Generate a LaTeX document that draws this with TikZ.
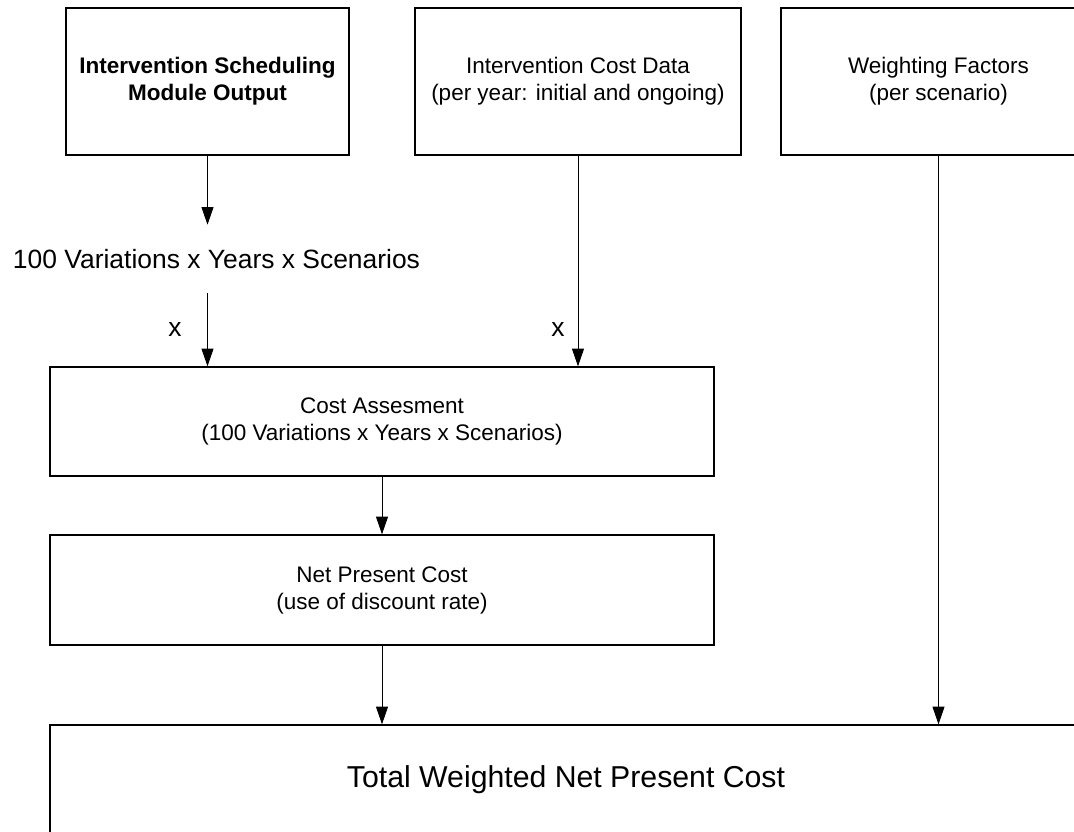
\documentclass[tikz,border=0pt]{standalone}
\usepackage{fontspec}
\setmainfont{Liberation Sans}
\usepackage{tikz}
\usetikzlibrary{arrows.meta,positioning,calc}

\begin{document}
\begin{tikzpicture}[x=0.025cm, y=-0.025cm,
    box/.style={draw, line width=1pt, align=center, inner sep=0pt, font=\fontsize{16}{19.2}\selectfont},
    arr/.style={-{Triangle[length=12.5pt,width=8.5pt]}, line width=0.6pt},
    lbl/.style={inner sep=0pt, font=\fontsize{18.8}{22}\selectfont}]
    \useasboundingbox (0,0) rectangle (1074,832);
    \clip (0,0) rectangle (1074,832);

    % Input boxes
    \node[box, minimum width=7.075cm, minimum height=3.675cm, font=\fontsize{16}{19.2}\selectfont\bfseries] (sched) at (207.5,81.5) {Intervention Scheduling\\Module Output};
    \node[box, minimum width=8.15cm, minimum height=3.675cm] (costdata) at (578,81.5) {Intervention Cost Data\\(per year: initial and ongoing)};
    \node[box, minimum width=7.875cm, minimum height=3.675cm] (weights) at (938.5,81.5) {Weighting Factors\\(per scenario)};

    % Output of scheduling module
    \node[lbl, minimum height=1.7cm] (vars) at (216.5,259) {100 Variations x Years x Scenarios};
    \node[lbl] (xa) at (175,330) {x};
    \node[lbl] (xb) at (558,330) {x};

    % Processing steps
    \node[box, minimum width=16.6cm, minimum height=2.725cm] (cost) at (382,421.5) {Cost Assesment\\(100 Variations x Years x Scenarios)};
    \node[box, minimum width=16.6cm, minimum height=2.75cm] (npc) at (382,590) {Net Present Cost\\(use of discount rate)};
    \node[box, minimum width=25.8cm, minimum height=2.75cm, font=\fontsize{21.5}{25}\selectfont] (total) at (566,780) {Total Weighted Net Present Cost};

    % Arrows
    \draw[arr] (sched.south) -- (sched.south |- vars.north);
    \draw[arr] (sched.south |- vars.south) -- (sched.south |- cost.north);
    \draw[arr] (costdata.south) -- (costdata.south |- cost.north);
    \draw[arr] (cost) -- (npc);
    \draw[arr] (npc.south) -- (npc.south |- total.north);
    \draw[arr] (weights.south) -- (weights.south |- total.north);
\end{tikzpicture}
\end{document}
